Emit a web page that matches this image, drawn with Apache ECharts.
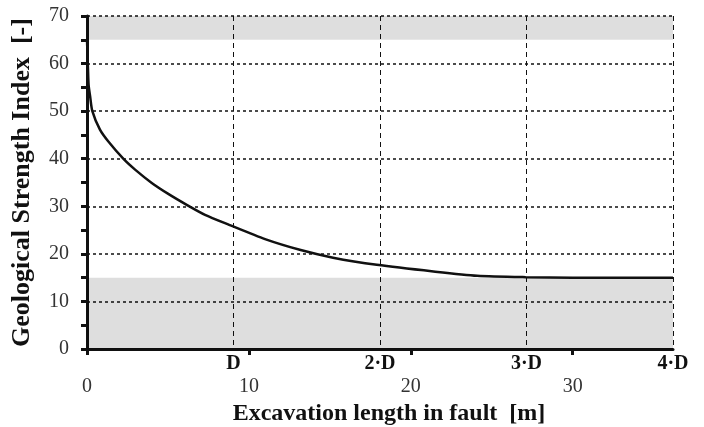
<!DOCTYPE html>
<html>
<head>
<meta charset="utf-8">
<script src="https://cdn.jsdelivr.net/npm/echarts@6/dist/echarts.min.js"></script>
<style>
  html, body { margin: 0; padding: 0; background: #fff; }
  #chart { width: 704px; height: 427px; }
</style>
</head>
<body>
<div id="chart"></div>
<script>
// excavation length [m] and GSI
const lengthM = [0, 0.03, 0.06, 0.1, 0.19, 0.33, 0.8, 1.32, 2.24, 2.97, 4.0, 5.02, 6.16, 7.29, 8.78, 11.0, 13.2, 15.2, 17.9, 21.4, 24.1, 27.1, 30, 36.2];
const gsi      = [65, 62, 59, 55.5, 53.2, 50.0, 46.1, 43.6, 40.0, 37.7, 34.9, 32.6, 30.3, 28.2, 26.1, 23.1, 20.8, 19.2, 17.7, 16.3, 15.4, 15.1, 15, 15];

const D = 9.05;                                   // tunnel diameter
const dLabels = ['', 'D', '2·D', '3·D', '4·D'];
const bands = [[0, 15], [65, 70]];               // shaded GSI ranges

const serif = '"Liberation Serif", "DejaVu Serif", serif';

const chart = echarts.init(document.getElementById('chart'));

const option = {
  animation: false,
  grid: { left: 87, right: 31, top: 16, bottom: 78, containLabel: false, outerBoundsMode: 'none' },
  xAxis: [
    {
      type: 'value',
      min: 0,
      max: 4 * D,
      interval: 10,
      name: 'Excavation length in fault  [m]',
      nameLocation: 'middle',
      nameGap: 52,
      nameTextStyle: { fontFamily: serif, fontWeight: 'bold', fontSize: 24, color: '#111', padding: [0, 0, 0, 18] },
      axisLine: { show: true, lineStyle: { color: '#111', width: 3 } },
      axisTick: { show: true, length: 6, lineStyle: { color: '#111', width: 3 } },
      axisLabel: { fontFamily: serif, fontSize: 20, color: '#333', margin: 28, showMaxLabel: false },
      splitLine: { show: false }
    },
    {
      type: 'value',
      position: 'bottom',
      min: 0,
      max: 4 * D,
      interval: D,
      axisLine: { show: false },
      axisTick: { show: false },
      axisLabel: {
        fontFamily: serif, fontSize: 20, fontWeight: 'bold', color: '#111', margin: 5,
        showMaxLabel: true,
        formatter: function (v) { return dLabels[Math.round(v / D)]; }
      },
      splitLine: { show: true, lineStyle: { color: '#111', width: 1, type: [5, 4] } }
    }
  ],
  yAxis: {
    type: 'value',
    min: 0,
    max: 70,
    interval: 10,
    name: 'Geological Strength Index  [-]',
    nameLocation: 'middle',
    nameGap: 52,
    nameTextStyle: { fontFamily: serif, fontWeight: 'bold', fontSize: 26, color: '#111' },
    axisLine: { show: true, lineStyle: { color: '#111', width: 3 } },
    axisTick: { show: true, length: 6, lineStyle: { color: '#111', width: 3 } },
    minorTick: { show: true, splitNumber: 2, length: 6, lineStyle: { color: '#111', width: 3 } },
    axisLabel: { fontFamily: serif, fontSize: 20, color: '#333', margin: 18 },
    splitLine: { show: true, lineStyle: { color: '#111', width: 1.5, type: [3, 3] } }
  },
  series: [
    {
      type: 'line',
      data: lengthM.map((x, i) => [x, gsi[i]]),
      smooth: 0.25,
      showSymbol: false,
      lineStyle: { color: '#111', width: 2.5 },
      markArea: {
        silent: true,
        itemStyle: { color: 'rgba(0,0,0,0.13)' },
        data: bands.map(b => [{ yAxis: b[0] }, { yAxis: b[1] }])
      }
    }
  ]
};

chart.setOption(option);
</script>
</body>
</html>
